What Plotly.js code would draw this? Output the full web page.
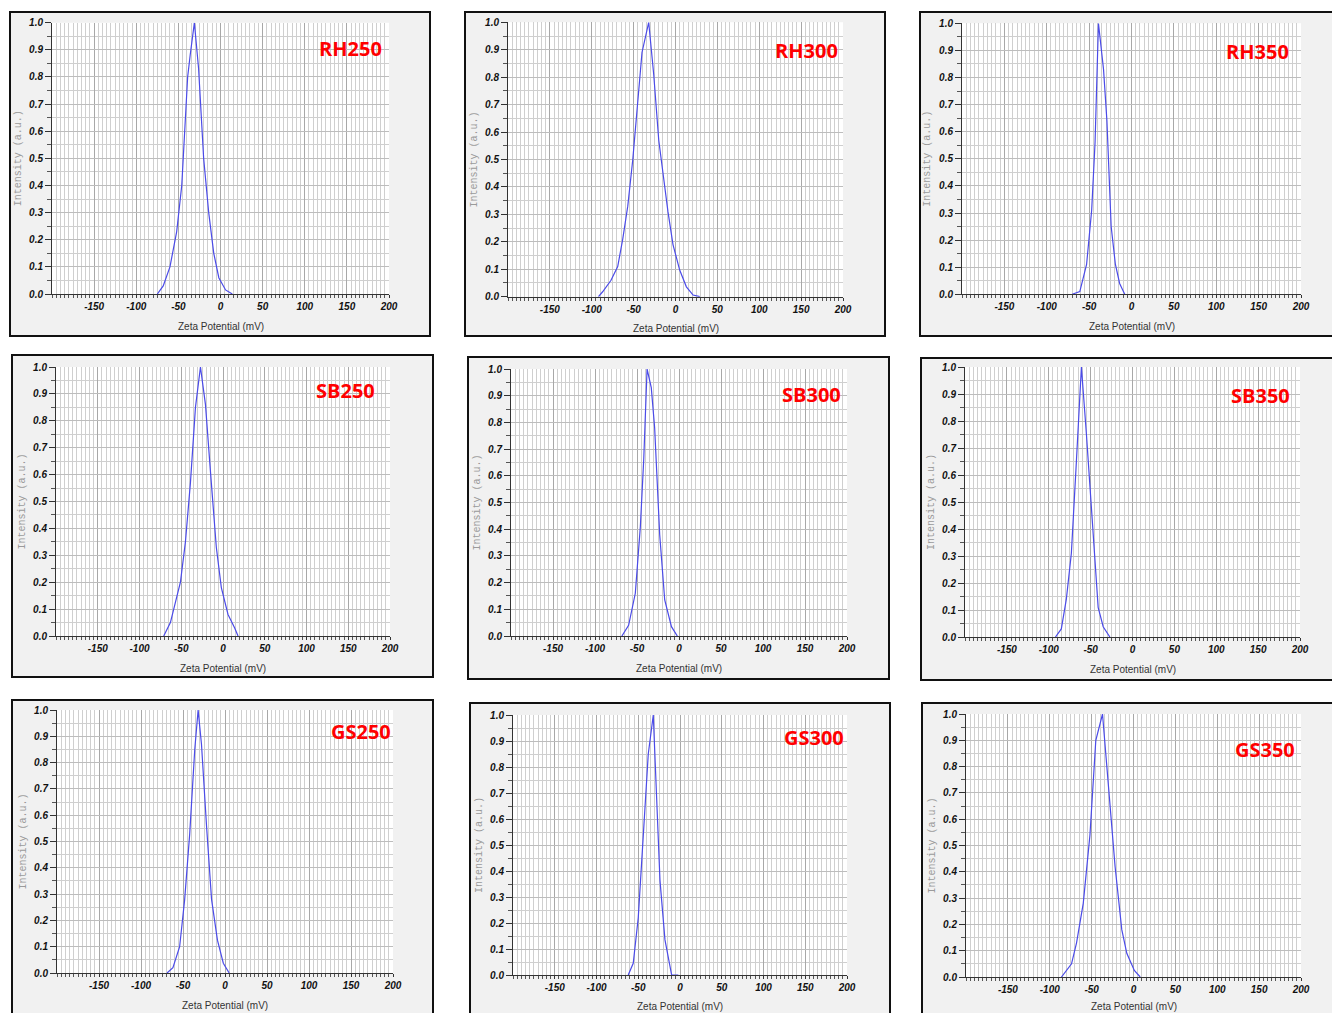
<!DOCTYPE html>
<html><head><meta charset="utf-8">
<script src="https://cdn.plot.ly/plotly-3.0.1.min.js"></script>
<style>html,body{margin:0;padding:0;background:#fff;} #chart{width:1332px;height:1013px;}</style>
</head><body><div id="chart"></div>
<script>
// ---------------- data ----------------
const sampleNames = ['RH250','RH300','RH350','SB250','SB300','SB350','GS250','GS300','GS350'];

const zetaRH250 = [-75, -68, -60, -52, -46, -39, -36, -31, -26, -20, -14, -8, -2, 6, 14];
const intRH250  = [0, 0.03, 0.10, 0.23, 0.40, 0.80, 0.88, 1.0, 0.83, 0.50, 0.30, 0.15, 0.06, 0.015, 0];

const zetaRH300 = [-92, -87, -77, -69, -63, -57, -51, -45, -40, -32, -26, -20, -9, -3, 5, 13, 21, 29];
const intRH300  = [0, 0.018, 0.06, 0.11, 0.21, 0.33, 0.50, 0.72, 0.89, 1.0, 0.81, 0.57, 0.31, 0.19, 0.097, 0.036, 0.006, 0];

const zetaRH350 = [-70, -61, -53, -47, -43, -39, -33, -29, -24, -19, -14, -8];
const intRH350  = [0, 0.01, 0.11, 0.31, 0.56, 1.0, 0.83, 0.64, 0.25, 0.11, 0.04, 0];

const zetaSB250 = [-71, -63, -51, -45, -39, -33, -27, -21, -15, -8, -2, 6, 14, 18];
const intSB250  = [0, 0.05, 0.20, 0.35, 0.57, 0.85, 1.0, 0.86, 0.61, 0.33, 0.18, 0.08, 0.03, 0];

const zetaSB300 = [-68, -60, -52, -46, -42, -38, -33, -29, -23, -17, -9, -2];
const intSB300  = [0, 0.04, 0.16, 0.41, 0.66, 1.0, 0.93, 0.78, 0.38, 0.135, 0.035, 0];

const zetaSB350 = [-92, -85, -79, -73, -67, -61, -55, -49, -41, -35, -27];
const intSB350  = [0, 0.03, 0.14, 0.31, 0.65, 1.0, 0.75, 0.47, 0.11, 0.038, 0];

const zetaGS250 = [-69, -62, -54, -48, -42, -36, -32, -28, -22, -16, -9, -2, 5];
const intGS250  = [0, 0.02, 0.10, 0.28, 0.53, 0.85, 1.0, 0.87, 0.56, 0.28, 0.125, 0.037, 0];

const zetaGS300 = [-62, -56, -50, -44, -38, -32, -28, -24, -18, -10, -2];
const intGS300  = [0, 0.045, 0.22, 0.52, 0.85, 1.0, 0.67, 0.365, 0.135, 0, 0];

const zetaGS350 = [-86, -74, -68, -60, -52, -45, -37, -30, -22, -14, -8, 1, 8];
const intGS350  = [0, 0.05, 0.13, 0.28, 0.54, 0.90, 1.0, 0.73, 0.42, 0.18, 0.09, 0.025, 0];

const xTickVals = [-150, -100, -50, 0, 50, 100, 150, 200];
const xAxisTitle = 'Zeta Potential (mV)';
const yAxisTitle = 'Intensity (a.u.)';

const seriesX = [zetaRH250, zetaRH300, zetaRH350, zetaSB250, zetaSB300, zetaSB350, zetaGS250, zetaGS300, zetaGS350];
const seriesY = [intRH250, intRH300, intRH350, intSB250, intSB300, intSB350, intGS250, intGS300, intGS350];

// ---------------- layout geometry (px) ----------------
const W = 1332, H = 1013;
// frame: [x0, y0, x1, y1]; plot: [left, top(1.0), right, bottom(0.0)]; label centre [x, y]
const geom = [
  {frame:[10,12,430,336],   plot:[52,22.7,389,294],     label:[350,48],  tshift:-32},
  {frame:[465,12,885,336],  plot:[508,22.3,843,296.7],  label:[806,50],  tshift:-32},
  {frame:[920,12,1345,336], plot:[962,23.3,1301,294.3], label:[1257,51], tshift:-32},
  {frame:[12,355,433,677],  plot:[56,367,390,636],      label:[346,391], tshift:-32},
  {frame:[468,357,889,679], plot:[511,369,847,636],     label:[811,394], tshift:-32},
  {frame:[921,358,1345,680],plot:[965,367,1300,637],    label:[1260,395],tshift:-32},
  {frame:[12,700,433,1025], plot:[57,710,393,973],      label:[361,731], tshift:-32},
  {frame:[470,703,890,1025],plot:[513,715,847,975],     label:[814,737], tshift:-31},
  {frame:[922,703,1345,1025],plot:[966,714,1301,977],   label:[1265,749],tshift:-29}
];

const px = v => v / W;
const py = v => 1 - v / H;

const traces = [];
const layout = {
  width: W, height: H,
  margin: {l:0, r:0, t:0, b:0},
  paper_bgcolor: '#ffffff',
  plot_bgcolor: 'rgba(0,0,0,0)',
  showlegend: false,
  shapes: [],
  annotations: []
};

const tickFont = {family: 'Liberation Sans, Arial, sans-serif', size: 10, color: '#111', weight: 'bold', style: 'italic'};

geom.forEach((g, i) => {
  const n = i + 1;
  const xk = 'xaxis' + (n === 1 ? '' : n);
  const yk = 'yaxis' + (n === 1 ? '' : n);
  const xr = 'x' + (n === 1 ? '' : n);
  const yr = 'y' + (n === 1 ? '' : n);

  traces.push({
    type: 'scatter', mode: 'lines',
    x: seriesX[i], y: seriesY[i],
    xaxis: xr, yaxis: yr,
    line: {color: '#4b4be8', width: 1.2},
    hoverinfo: 'skip'
  });

  layout[xk] = {
    domain: [px(g.plot[0]), px(g.plot[2])],
    anchor: yr,
    range: [-200, 200],
    tickvals: xTickVals,
    ticktext: xTickVals.map(String),
    ticks: 'outside', ticklen: 3, tickwidth: 1, tickcolor: '#333',
    tickfont: tickFont,
    showgrid: true, gridcolor: '#a8a8a8', gridwidth: 1,
    minor: {tick0: 0, dtick: 5, ticks: 'outside', ticklen: 3, tickcolor: '#555', showgrid: true, gridcolor: '#cfcfcf', gridwidth: 1},
    showline: true, linecolor: '#333', linewidth: 1,
    zeroline: false,
    fixedrange: true
  };
  layout[yk] = {
    domain: [py(g.plot[3]), py(g.plot[1])],
    anchor: xr,
    range: [0, 1],
    dtick: 0.1, tick0: 0,
    tickformat: '.1f',
    ticks: 'outside', ticklen: 6, tickwidth: 1, tickcolor: '#333',
    tickfont: tickFont,
    showgrid: true, gridcolor: '#bdbdbd', gridwidth: 1,
    minor: {dtick: 0.05, ticks: 'outside', ticklen: 4, tickcolor: '#555', showgrid: true, gridcolor: '#cfcfcf'},
    showline: true, linecolor: '#333', linewidth: 1,
    zeroline: false,
    fixedrange: true
  };

  // panel frame with grey background
  layout.shapes.push({
    type: 'rect', xref: 'paper', yref: 'paper', layer: 'below',
    x0: px(g.frame[0]), x1: px(g.frame[2]), y0: py(g.frame[3]), y1: py(g.frame[1]),
    fillcolor: '#f1f1f1', line: {color: '#111', width: 2}
  });
  // white plotting area
  layout.shapes.push({
    type: 'rect', xref: xr + ' domain', yref: yr + ' domain', layer: 'below',
    x0: 0, x1: 1, y0: 0, y1: 1,
    fillcolor: '#ffffff', line: {width: 0}
  });

  // axis titles
  layout.annotations.push({
    xref: xr + ' domain', yref: yr + ' domain', x: 0.5, y: 0, yshift: g.tshift,
    xanchor: 'center', yanchor: 'middle', showarrow: false,
    text: xAxisTitle, font: {family: 'Liberation Sans, Arial, sans-serif', size: 10, color: '#333'}
  });
  layout.annotations.push({
    xref: xr + ' domain', yref: yr + ' domain', x: 0, y: 0.5, xshift: -34,
    xanchor: 'center', yanchor: 'middle', showarrow: false, textangle: -90,
    text: yAxisTitle, font: {family: 'Liberation Mono, DejaVu Sans Mono, monospace', size: 10, color: '#9a9a9a'}
  });
  // sample label
  layout.annotations.push({
    xref: 'paper', yref: 'paper', x: px(g.label[0]), y: py(g.label[1]),
    xanchor: 'center', yanchor: 'middle', showarrow: false,
    text: '<b>' + sampleNames[i] + '</b>',
    font: {family: 'Open Sans, Liberation Sans, sans-serif', size: 20, color: '#ff0000'}
  });
});

Plotly.newPlot('chart', traces, layout, {displayModeBar: false, staticPlot: true});
</script>
</body></html>
